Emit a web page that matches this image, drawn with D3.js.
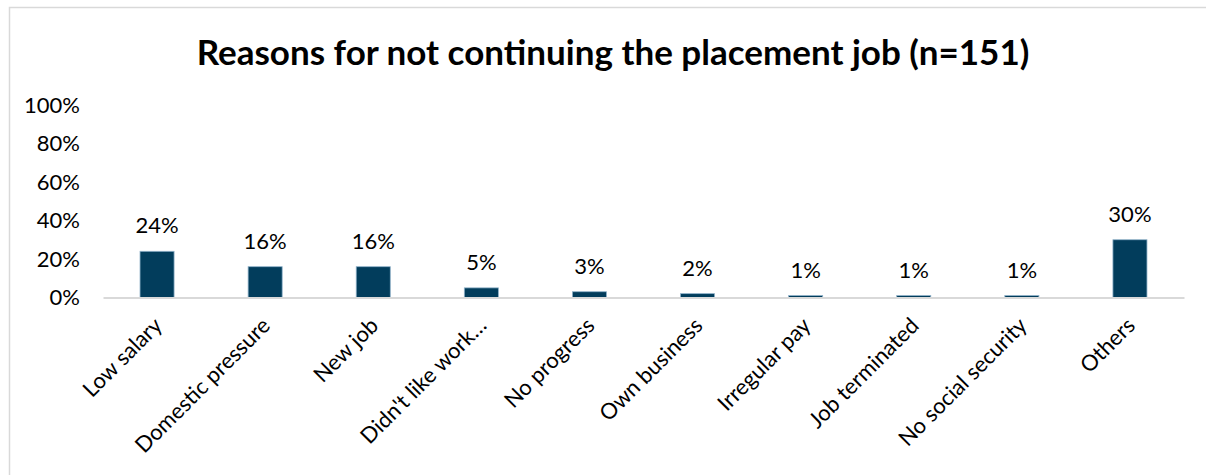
<!DOCTYPE html>
<html>
<head>
<meta charset="utf-8">
<script src="https://cdn.jsdelivr.net/npm/d3@7"></script>
<style>
  html, body { margin: 0; padding: 0; background: #fff; }
  svg { display: block; }
  text { font-family: Lato, "Open Sans", sans-serif; fill: #000; }
</style>
</head>
<body>
<svg id="chart" width="1206" height="475"></svg>
<script>
// Reasons given for not continuing the placement job
const categories = [
  "Low salary", "Domestic pressure", "New job", "Didn't like work…",
  "No progress", "Own business", "Irregular pay", "Job terminated",
  "No social security", "Others"
];
const shares = [24, 16, 16, 5, 3, 2, 1, 1, 1, 30];
const yTicks = [0, 20, 40, 60, 80, 100];
const titleText = "Reasons for not continuing the placement job (n=151)";

const W = 1206, H = 475;
const plot = { left: 103, right: 1184, top: 105, bottom: 297.5 };

const svg = d3.select("#chart");

// outer chart frame
svg.append("rect")
  .attr("x", 9.5).attr("y", 7.5)
  .attr("width", W + 20).attr("height", H + 20)
  .attr("fill", "#fff")
  .attr("stroke", "#d9d9d9").attr("stroke-width", 1.5);

const x = d3.scaleBand()
  .domain(categories)
  .range([plot.left, plot.right])
  .paddingInner(0.685).paddingOuter(0.3425);

const y = d3.scaleLinear()
  .domain([0, 100])
  .range([plot.bottom, plot.top]);

// title
svg.append("text")
  .attr("x", 613).attr("y", 65)
  .attr("text-anchor", "middle")
  .style("font-weight", "bold")
  .style("font-size", "35px")
  .text(titleText);

// y axis labels (no axis line, no gridlines)
const yAxis = d3.axisLeft(y)
  .tickValues(yTicks)
  .tickFormat(d => d + "%")
  .tickSize(0).tickPadding(0);
const gy = svg.append("g")
  .attr("transform", `translate(80,0)`)
  .call(yAxis);
gy.select(".domain").remove();
gy.selectAll("text")
  .style("font-family", "Lato, sans-serif")
  .style("font-size", "22px")
  .attr("fill", "#000");

// bars
svg.append("g").selectAll("rect")
  .data(shares)
  .join("rect")
  .attr("x", (d, i) => x(categories[i]))
  .attr("y", d => y(d))
  .attr("width", x.bandwidth())
  .attr("height", d => y(0) - y(d))
  .attr("fill", "#023d5c")
  .attr("stroke", "#8fb1c9")
  .attr("stroke-width", 0.8);

// x axis baseline and rotated category labels
const xAxis = d3.axisBottom(x).tickSize(0).tickPadding(0);
const gx = svg.append("g")
  .attr("transform", `translate(0,${plot.bottom})`)
  .call(xAxis);
gx.select(".domain")
  .attr("stroke", "#d9d9d9").attr("stroke-width", 2);
gx.selectAll(".tick text")
  .style("font-family", "Lato, sans-serif")
  .style("font-size", "22px")
  .attr("fill", "#000")
  .attr("text-anchor", "end")
  .attr("y", 0).attr("dy", "0.35em")
  .attr("transform", "translate(1,24) rotate(-45)");

// value labels above bars
svg.append("g").selectAll("text")
  .data(shares)
  .join("text")
  .attr("x", (d, i) => x(categories[i]) + x.bandwidth() / 2)
  .attr("y", d => y(d) - 18)
  .attr("text-anchor", "middle")
  .style("font-size", "22px")
  .text(d => d + "%");
</script>
</body>
</html>
